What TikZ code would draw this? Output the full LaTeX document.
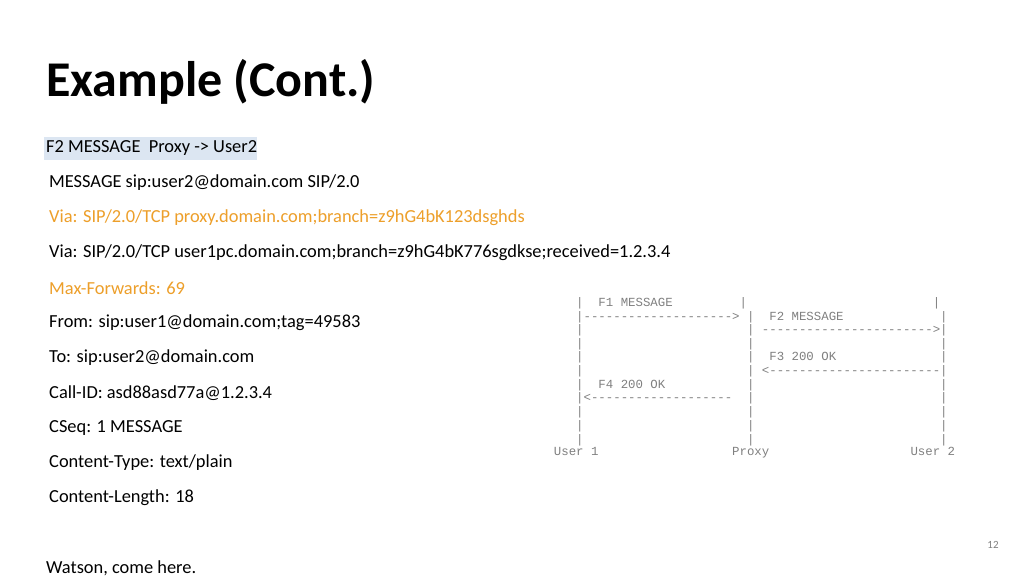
\documentclass[tikz,border=0pt]{standalone}
\usepackage{fontspec}
\setmainfont{Carlito}
\newfontfamily\mono[WordSpace={1,0,0}]{Liberation Mono}
\definecolor{orng}{HTML}{ED9F2A}
\definecolor{asc}{HTML}{808080}
\definecolor{hl}{HTML}{DCE6F2}
\begin{document}
\begin{tikzpicture}[x=1pt,y=-1pt,
  body/.style={anchor=west,inner sep=0pt,font=\fontsize{18.4}{20}\selectfont},
  art/.style={anchor=west,inner sep=0pt,text=asc,font=\mono\fontsize{12.38}{13}\selectfont}]
\useasboundingbox (0,0) rectangle (1024,576);
\fill[white] (0,0) rectangle (1024,576);
\node[anchor=base west,inner sep=0pt,font=\bfseries\fontsize{50}{56}\selectfont] (title) at (46,96) {Example (Cont.)};
\fill[hl] (44,137) rectangle (257,160);
\node[body] (l0) at (46,148) {F2 MESSAGE~ Proxy -> User2};
\node[body] (l1) at (49,183) {MESSAGE sip:user2@domain.com SIP/2.0};
\node[body,text=orng] (l2) at (49,218) {Via: SIP/2.0/TCP proxy.domain.com;branch=z9hG4bK123dsghds};
\node[body] (l3) at (49,253) {Via: SIP/2.0/TCP user1pc.domain.com;branch=z9hG4bK776sgdkse;received=1.2.3.4};
\node[body,text=orng] (l4) at (49,288) {Max-Forwards: 69};
\node[body] (l5) at (49,323) {From: sip:user1@domain.com;tag=49583};
\node[body] (l6) at (49,358) {To: sip:user2@domain.com};
\node[body] (l7) at (49,393) {Call-ID: asd88asd77a@1.2.3.4};
\node[body] (l8) at (49,428) {CSeq: 1 MESSAGE};
\node[body] (l9) at (49,463) {Content-Type: text/plain};
\node[body] (l10) at (49,498) {Content-Length: 18};
\node[body] (l11) at (46,568) {Watson, come here.};
\node[anchor=center,inner sep=0pt,text=asc,font=\fontsize{11}{12}\selectfont] (pg) at (993,545) {12};
% ASCII call flow
\node[art] (a1) at (553.7,303) {~~~|~~F1~MESSAGE~~~~~~~~~|~~~~~~~~~~~~~~~~~~~~~~~~~|};
\node[art] (a2) at (553.7,317) {~~~|-------------------->~|~~F2~MESSAGE~~~~~~~~~~~~~|};
\node[art] (a3) at (553.7,330) {~~~|~~~~~~~~~~~~~~~~~~~~~~|~----------------------->|};
\node[art] (a4) at (553.7,344) {~~~|~~~~~~~~~~~~~~~~~~~~~~|~~~~~~~~~~~~~~~~~~~~~~~~~|};
\node[art] (a5) at (553.7,357) {~~~|~~~~~~~~~~~~~~~~~~~~~~|~~F3~200~OK~~~~~~~~~~~~~~|};
\node[art] (a6) at (553.7,371) {~~~|~~~~~~~~~~~~~~~~~~~~~~|~<-----------------------|};
\node[art] (a7) at (553.7,385) {~~~|~~F4~200~OK~~~~~~~~~~~|~~~~~~~~~~~~~~~~~~~~~~~~~|};
\node[art] (a8) at (553.7,398) {~~~|<-------------------~~|~~~~~~~~~~~~~~~~~~~~~~~~~|};
\node[art] (a9) at (553.7,412) {~~~|~~~~~~~~~~~~~~~~~~~~~~|~~~~~~~~~~~~~~~~~~~~~~~~~|};
\node[art] (a10) at (553.7,426) {~~~|~~~~~~~~~~~~~~~~~~~~~~|~~~~~~~~~~~~~~~~~~~~~~~~~|};
\node[art] (a11) at (553.7,440) {~~~|~~~~~~~~~~~~~~~~~~~~~~|~~~~~~~~~~~~~~~~~~~~~~~~~|};
\node[art] (a12) at (553.7,453) {User~1~~~~~~~~~~~~~~~~~~Proxy~~~~~~~~~~~~~~~~~~~User~2};
\end{tikzpicture}
\end{document}
